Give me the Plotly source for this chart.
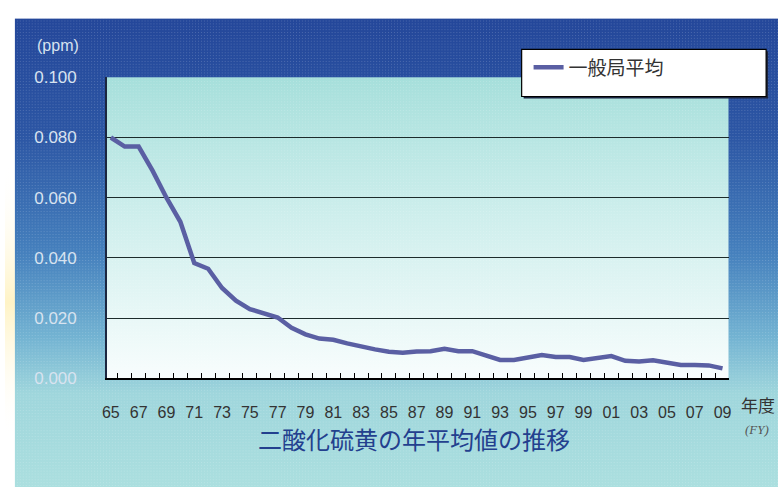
import base64
import plotly.graph_objects as go

# ---------------- data ----------------
years = list(range(1965, 2010))
so2_mean = [0.0800, 0.0770, 0.0770, 0.0690, 0.0600, 0.0520, 0.0383, 0.0364, 0.0300, 0.0258,
            0.0230, 0.0217, 0.0202, 0.0168, 0.0146, 0.0132, 0.0128, 0.0116, 0.0105, 0.0096,
            0.0088, 0.0085, 0.0089, 0.0090, 0.0098, 0.0090, 0.0090, 0.0077, 0.0061, 0.0061,
            0.0068, 0.0077, 0.0071, 0.0071, 0.0061, 0.0069, 0.0074, 0.0058, 0.0056, 0.0060,
            0.0053, 0.0044, 0.0044, 0.0043, 0.0033]
series_name = "一般局平均"
x_tick_years = years[::2]
x_tick_text = [f"{y % 100:02d}" for y in x_tick_years]
y_tick_vals = [0.0, 0.02, 0.04, 0.06, 0.08, 0.10]
y_tick_text = ["0.000", "0.020", "0.040", "0.060", "0.080", "0.100"]
y_grid_vals = [0.02, 0.04, 0.06, 0.08]
title_text = "二酸化硫黄の年平均値の推移"
unit_text = "(ppm)"
xunit_text = "年度"
xunit_en = "(FY)"

# ---------------- layout geometry ----------------
W, H = 781, 497
PL, PR, PT, PB = 103, 731, 71, 384   # plot area in px

# background svg
svg = f'''<svg xmlns="http://www.w3.org/2000/svg" width="{W}" height="{H}" viewBox="0 0 {W} {H}" preserveAspectRatio="none">
<defs>
<linearGradient id="o" x1="0" y1="0" x2="0" y2="1">
<stop offset="0" stop-color="#24479a"/>
<stop offset="0.25" stop-color="#2c56a4"/>
<stop offset="0.5" stop-color="#4580bd"/>
<stop offset="0.68" stop-color="#73b3d2"/>
<stop offset="0.8" stop-color="#9fd6dc"/>
<stop offset="1" stop-color="#abdfdf"/>
</linearGradient>
<linearGradient id="p" x1="0" y1="0" x2="0" y2="1">
<stop offset="0" stop-color="#a6dfdb"/>
<stop offset="0.45" stop-color="#cdeeec"/>
<stop offset="1" stop-color="#f8fdfd"/>
</linearGradient>
<linearGradient id="g" x1="0" y1="0" x2="0" y2="1">
<stop offset="0" stop-color="#ffffff" stop-opacity="0"/>
<stop offset="0.5" stop-color="#fff2c0" stop-opacity="0.9"/>
<stop offset="1" stop-color="#ffffff" stop-opacity="0"/>
</linearGradient>
<pattern id="d" width="3" height="3" patternUnits="userSpaceOnUse">
<rect x="0" y="0" width="1" height="1" fill="#ffffff" fill-opacity="0.18"/>
</pattern>
</defs>
<rect width="{W}" height="{H}" fill="#ffffff"/>
<rect x="0" y="160" width="12" height="290" fill="url(#g)"/>
<rect x="10" y="10" width="{W-10}" height="{H-10}" fill="url(#o)"/>
<rect x="10" y="10" width="{W-10}" height="{H-10}" fill="url(#d)"/>
<rect x="{PL}" y="{PT}" width="{PR-PL}" height="{PB-PT}" fill="url(#p)"/>
<rect x="{PL}" y="{PT}" width="{PR-PL}" height="{PB-PT}" fill="url(#d)"/>
</svg>'''
bg_uri = "data:image/svg+xml;base64," + base64.b64encode(svg.encode("utf-8")).decode("ascii")

fig = go.Figure()
fig.add_trace(go.Scatter(
    x=years, y=so2_mean, mode="lines", name=series_name,
    line=dict(color="#5a5fa3", width=4.5), showlegend=True,
))

fig.update_layout(
    width=W, height=H, autosize=False,
    margin=dict(l=0, r=0, t=0, b=0),
    paper_bgcolor="#ffffff",
    plot_bgcolor="rgba(0,0,0,0)",
    images=[dict(source=bg_uri, xref="paper", yref="paper", x=0, y=1, sizex=1, sizey=1,
                 xanchor="left", yanchor="top", sizing="stretch", layer="below")],
    font=dict(family="Liberation Sans, Arial, sans-serif"),
    xaxis=dict(
        domain=[PL / W, PR / W], range=[1964.72, 2009.43],
        tickmode="array", tickvals=x_tick_years, ticktext=x_tick_text,
        ticks="", showgrid=False, zeroline=False,
        showline=True, linecolor="#000000", linewidth=1.5,
        tickfont=dict(size=16, color="#333333"), ticklabelstandoff=19,
        minor=dict(tickmode="linear", tick0=1964.5, dtick=1, ticks="inside",
                   ticklen=6, tickwidth=1, tickcolor="#000000", showgrid=False),
    ),
    yaxis=dict(
        domain=[1 - PB / H, 1 - PT / H], range=[0, 0.1],
        tickmode="array", tickvals=y_tick_vals, ticktext=y_tick_text,
        ticks="", showgrid=False, zeroline=False,
        showline=True, linecolor="#1c2740", linewidth=1.5,
        tickfont=dict(size=17, color="#d8e3f0"), ticklabelstandoff=25,
        minor=dict(tickmode="array", tickvals=y_grid_vals, ticks="",
                   showgrid=True, gridcolor="#1c2b2b", gridwidth=1),
    ),
    legend=dict(x=529 / W, y=1 - 41 / H, xanchor="left", yanchor="top",
                bgcolor="rgba(0,0,0,0)", borderwidth=0,
                font=dict(size=19, color="#333333", family="Noto Sans CJK JP")),
    shapes=[
        dict(type="rect", xref="paper", yref="paper", x0=524 / W, x1=771 / W,
             y0=1 - 93 / H, y1=1 - 44 / H, fillcolor="#1a2440", line=dict(width=0), layer="above"),
        dict(type="rect", xref="paper", yref="paper", x0=522 / W, x1=769 / W,
             y0=1 - 91 / H, y1=1 - 42 / H, fillcolor="#ffffff",
             line=dict(color="#000000", width=1.2), layer="above"),
    ],
    annotations=[
        dict(text=unit_text, xref="paper", yref="paper", x=30 / W, y=1 - 38 / H,
             xanchor="left", yanchor="middle", showarrow=False,
             font=dict(size=16, color="#d8e3f0")),
        dict(text=title_text, xref="paper", yref="paper", x=413 / W, y=1 - 447 / H,
             xanchor="center", yanchor="middle", showarrow=False,
             font=dict(size=24, color="#23408e", family="Noto Sans CJK JP")),
        dict(text=xunit_text, xref="paper", yref="paper", x=761 / W, y=1 - 411 / H,
             xanchor="center", yanchor="middle", showarrow=False,
             font=dict(size=17, color="#333333", family="Noto Sans CJK JP")),
        dict(text="<i>" + xunit_en + "</i>", xref="paper", yref="paper", x=760 / W, y=1 - 437 / H,
             xanchor="center", yanchor="middle", showarrow=False,
             font=dict(size=13, color="#555555", family="Liberation Serif, serif")),
    ],
)

fig.write_html("out.html")
